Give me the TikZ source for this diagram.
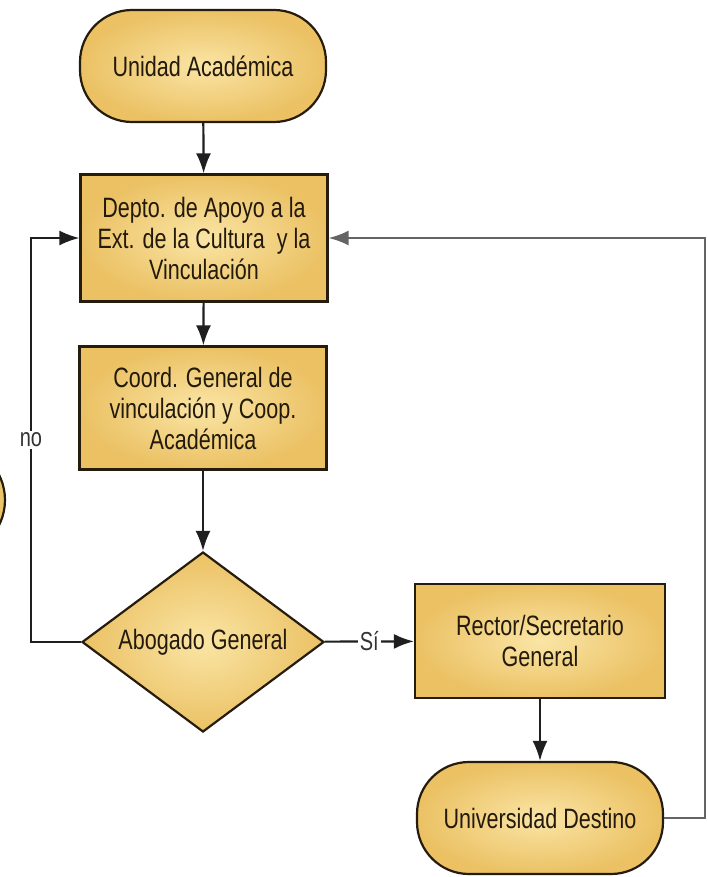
\documentclass[tikz,border=0pt]{standalone}
\usepackage{fontspec}
\newfontfamily\flowfont[FakeStretch=0.77]{Liberation Sans}
\usetikzlibrary{shapes.geometric,arrows.meta}
\definecolor{boxin}{RGB}{250,229,165}
\definecolor{boxout}{RGB}{235,193,100}
\definecolor{boxline}{RGB}{38,28,14}
\definecolor{boxtext}{RGB}{35,26,12}
\definecolor{backgray}{RGB}{100,100,100}
\tikzset{
    block/.style={draw=boxline, line width=2.2pt, inner color=boxin, outer color=boxout,
        text=boxtext, font=\flowfont\fontsize{28}{31}\selectfont, align=center, inner sep=0pt},
    terminal/.style={block, rounded corners=52pt, minimum width=246pt, minimum height=112pt},
    process/.style={block, minimum width=247pt, minimum height=125pt},
    decision/.style={block, diamond, aspect=1.34, minimum width=242pt, minimum height=180pt},
    line/.style={draw=black!88, line width=2.2pt, -{Latex[length=20pt,width=15pt]}},
    backline/.style={draw=backgray, line width=2.2pt, -{Latex[length=20pt,width=15pt]}},
    flowlabel/.style={fill=white, text=black!80, font=\flowfont\fontsize{26}{28}\selectfont, inner sep=2pt},
}
\begin{document}
\begin{tikzpicture}[x=1pt, y=-1pt]
	\useasboundingbox (0,0) rectangle (707,877);
	% shape cut by the left edge
	\begin{scope}
	\clip (0,0) rectangle (707,877);
	\draw[draw=boxline, line width=2.2pt, inner color=boxin, outer color=boxout] (-51,500) circle[radius=56];
	\end{scope}
	\node[terminal] (unidad) at (203,66) {Unidad Académica};
	\node[process, minimum height=127pt] (depto) at (204,238) {Depto. de Apoyo a la\\Ext. de la Cultura~ y la\\Vinculación};
	\node[process, minimum height=123pt] (coord) at (203,408) {Coord. General de\\vinculación y Coop.\\Académica};
	\node[decision] (abogado) at (203,642) {Abogado General};
	\node[process, minimum width=250pt, minimum height=114pt] (rector) at (540,641) {Rector/Secretario\\General};
	\node[terminal] (destino) at (540,818) {Universidad Destino};
	\coordinate (noturn) at (31,642);
	\coordinate (backturn) at (705,818);
	% connectors
	\path[line] (unidad) -- (depto);
	\path[line] (depto) -- (coord);
	\path[line] (coord) -- (abogado);
	\path[line] (abogado) -- node[flowlabel] {Sí} (rector);
	\path[line] (rector) -- (destino);
	\path[line] (abogado.west) -- (noturn) |- node[flowlabel, pos=0.25] {no} (depto.west);
	\path[backline] (destino.east) -- (backturn) |- (depto.east);
\end{tikzpicture}
\end{document}
